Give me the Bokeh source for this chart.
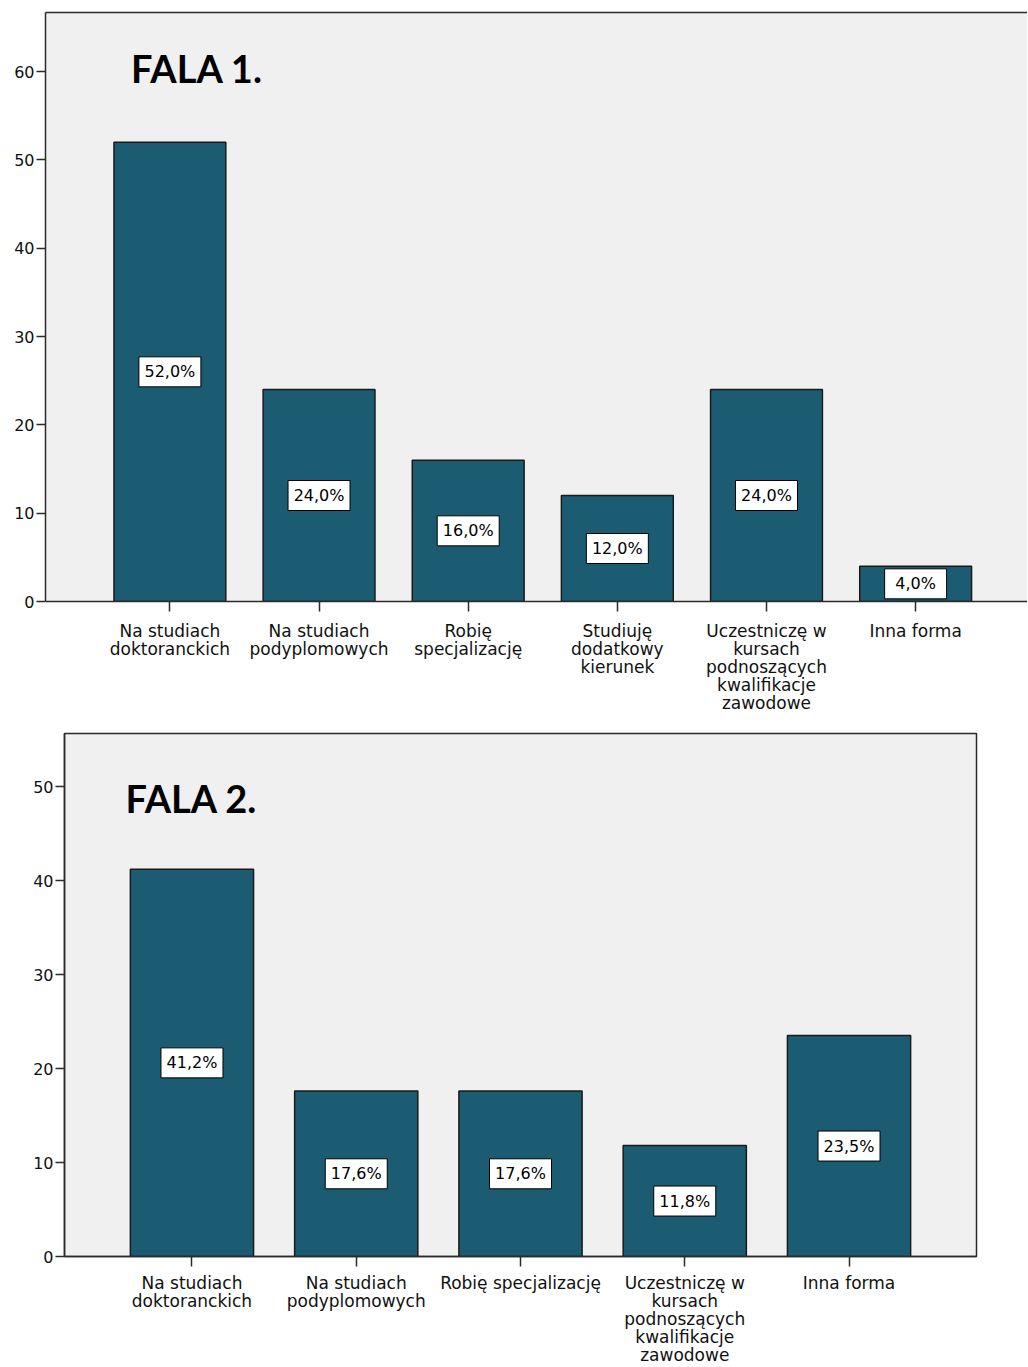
from bokeh.plotting import figure
from bokeh.models import ColumnDataSource, Label, FixedTicker, LinearAxis, Range1d
from bokeh.layouts import column
from bokeh.core.properties import value
from bokeh.embed import file_html
from bokeh.resources import INLINE

# ---- data ----
categories_1 = ["Na studiach\ndoktoranckich", "Na studiach\npodyplomowych", "Robię\nspecjalizację",
                "Studiuję\ndodatkowy\nkierunek",
                "Uczestniczę w\nkursach\npodnoszących\nkwalifikacje\nzawodowe", "Inna forma"]
values_1 = [52.0, 24.0, 16.0, 12.0, 24.0, 4.0]
title_1 = "FALA 1."
yticks_1 = [0, 10, 20, 30, 40, 50, 60]

categories_2 = ["Na studiach\ndoktoranckich", "Na studiach\npodyplomowych", "Robię specjalizację",
                "Uczestniczę w\nkursach\npodnoszących\nkwalifikacje\nzawodowe", "Inna forma"]
values_2 = [41.2, 17.6, 17.6, 11.8, 23.5]
title_2 = "FALA 2."
yticks_2 = [0, 10, 20, 30, 40, 50]

BAR = "#1c5c73"
BG = "#f0f0f0"
AX = "#2b2b2b"
FONT = "DejaVu Sans"


def pct(v):
    return f"{v:.1f}".replace(".", ",") + "%"


def make_chart(cats, vals, title, yticks, width, height, x_range, y_range,
               borders, title_pos, full_outline, standoff):
    p = figure(width=width, height=height, x_range=Range1d(*x_range), y_range=Range1d(*y_range),
               output_backend="svg", toolbar_location=None, tools="")
    p.min_border_left, p.min_border_right, p.min_border_top, p.min_border_bottom = borders
    p.background_fill_color = BG
    p.border_fill_color = "white"
    p.grid.visible = False

    xs = list(range(len(cats)))
    src = ColumnDataSource(dict(x=xs, top=vals, mid=[v / 2 for v in vals],
                                lab=[pct(v) for v in vals]))
    p.vbar(x="x", top="top", bottom=0, width=0.75, source=src, fill_color=BAR,
           line_color="#1a1a1a", line_width=1.5)

    p.rect(x="x", y="mid", width=62, height=30, width_units="screen", height_units="screen",
           source=src, fill_color="white", line_color="black", line_width=1)
    p.text(x="x", y="mid", text="lab", source=src, text_align="center",
           text_baseline="middle", text_font=value(FONT), text_font_size="16px",
           text_color="black")

    xa = p.below[0]
    xa.ticker = FixedTicker(ticks=xs)
    xa.major_label_overrides = {i: c for i, c in enumerate(cats)}
    xa.major_label_text_font = FONT
    xa.major_label_text_font_size = "17px"
    xa.major_label_text_line_height = 0.9
    xa.major_label_text_color = "#111111"
    xa.major_tick_out = 10
    xa.major_tick_in = 0
    xa.minor_tick_line_color = None
    xa.major_label_standoff = standoff
    xa.axis_line_color = AX
    xa.axis_line_width = 1.5
    xa.major_tick_line_color = AX
    xa.major_tick_line_width = 1.5

    ya = p.left[0]
    ya.ticker = FixedTicker(ticks=yticks)
    ya.major_label_text_font = FONT
    ya.major_label_text_font_size = "16px"
    ya.major_label_text_color = "#111111"
    ya.major_tick_out = 9
    ya.major_tick_in = 0
    ya.minor_tick_line_color = None
    ya.major_label_standoff = 2
    ya.axis_line_color = AX
    ya.axis_line_width = 1.5
    ya.major_tick_line_color = AX
    ya.major_tick_line_width = 1.5

    if full_outline:
        p.outline_line_color = AX
        p.outline_line_width = 1.5
    else:
        p.outline_line_color = None
        top = LinearAxis(ticker=FixedTicker(ticks=[]), major_label_text_font_size="0px",
                         major_tick_out=0, major_tick_in=0, minor_tick_out=0, minor_tick_in=0,
                         axis_line_color=AX, axis_line_width=1.5, major_label_standoff=0)
        p.add_layout(top, "above")

    t = Label(x=title_pos[0], y=title_pos[1], text=title, text_font="Lato",
              text_font_style="bold", text_font_size="38px", text_color="black",
              text_align="left", text_baseline="alphabetic")
    p.add_layout(t)
    return p


p1 = make_chart(categories_1, values_1, title_1, yticks_1, width=1027, height=715,
                x_range=(-0.834, 5.75), y_range=(0, 66.68), borders=(45, 0, 12, 114),
                title_pos=(-0.26, 60.4), full_outline=False, standoff=9)
p2 = make_chart(categories_2, values_2, title_2, yticks_2, width=1000, height=652,
                x_range=(-0.776, 4.776), y_range=(0, 55.64), borders=(64, 24, 18, 111),
                title_pos=(-0.405, 48.8), full_outline=True, standoff=6)

layout = column(column(p1), column(p2), spacing=0)
open("out.html", "w").write(file_html(layout, INLINE))
